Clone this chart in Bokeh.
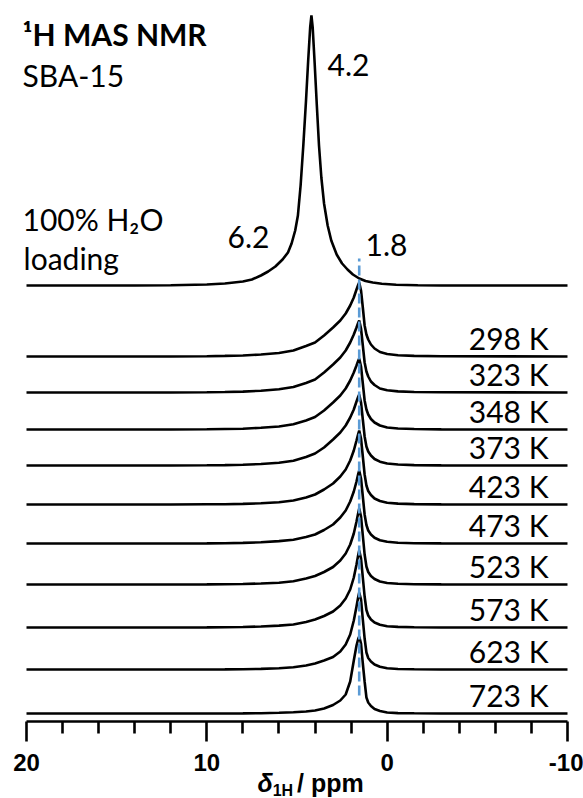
from bokeh.plotting import figure
from bokeh.models import Range1d, FixedTicker, Label
from bokeh.embed import file_html
from bokeh.resources import INLINE

# ---- 100 % H2O loaded SBA-15 (chemical shift in ppm, intensity in a.u.) ----
ppm_water = [20, 14, 12, 10, 9, 8, 7.5, 7.0, 6.6, 6.2, 5.8, 5.5, 5.3, 5.1, 4.95,
             4.8, 4.65, 4.5, 4.38, 4.27, 4.2, 4.13, 4.02, 3.9, 3.78, 3.65, 3.5,
             3.3, 3.1, 2.8, 2.5, 2.2, 1.9, 1.55, 1.2, 0.8, 0.3, -0.5, -1.7, -3, -10]
int_water = [0, 0, 0.2, 1, 2, 4, 6, 10, 14, 19, 26, 33, 42, 55, 70,
             100, 140, 185, 225, 258, 270, 258, 222, 180, 140, 108, 82,
             60, 45, 31, 22, 16, 11, 7, 4.5, 3, 1.8, 0.8, 0.2, 0, 0]

# ---- dehydrated SBA-15 at increasing temperature ----
ppm_dry = [20, 12, 10, 9, 8, 7, 6, 5.2, 4.5, 4.0, 3.5, 3.0, 2.6, 2.3, 2.05, 1.85,
           1.7, 1.6, 1.55, 1.45, 1.35, 1.25, 1.15, 1.05, 0.9, 0.7, 0.4, 0.0,
           -0.6, -1.5, -3, -10]
temps = ["298 K", "323 K", "348 K", "373 K", "423 K",
         "473 K", "523 K", "573 K", "623 K", "723 K"]
int_298 = [0, 0, 0.3, 0.6, 1, 2, 3.5, 6, 10.5, 14, 21, 29, 36, 43, 51, 59,
           67, 72, 74, 66, 49, 31, 22, 17, 12, 8, 4.5, 2.5, 1.2, 0.6, 0.2, 0]
int_323 = [0, 0, 0.3, 0.5, 0.9, 1.8, 3.2, 5.5, 9.5, 13, 20, 28, 35, 42, 50, 58,
           65, 70, 72, 64, 47, 30, 21, 16, 11, 7.5, 4, 2.2, 1.1, 0.5, 0.2, 0]
int_348 = [0, 0, 0.2, 0.5, 0.8, 1.7, 3.0, 5.2, 9, 12.5, 19, 27, 34, 41, 49, 57,
           64, 69, 71, 63, 46, 29, 20, 15, 10.5, 7, 4, 2, 1, 0.5, 0.1, 0]
int_373 = [0, 0, 0.2, 0.4, 0.7, 1.5, 2.7, 4.8, 8.5, 12, 18, 26, 33, 40, 48, 56,
           64, 69, 71, 63, 46, 29, 19, 14, 10, 6.5, 3.8, 2, 1, 0.4, 0.1, 0]
int_423 = [0, 0, 0.2, 0.3, 0.6, 1.2, 2.3, 4, 7, 10, 15, 21, 28, 35, 44, 54,
           64, 71, 74, 66, 48, 30, 19, 13.5, 9.5, 6, 3.5, 1.8, 0.9, 0.4, 0.1, 0]
int_473 = [0, 0, 0.1, 0.3, 0.6, 1.2, 2.4, 3.8, 6.5, 9, 13.5, 19, 26, 33, 42, 52,
           62, 70, 73, 65, 47, 29, 18.5, 13, 9, 5.8, 3.3, 1.7, 0.8, 0.3, 0.1, 0]
int_523 = [0, 0, 0.1, 0.2, 0.5, 1.0, 1.8, 3.2, 6, 8.5, 12.5, 17.5, 24, 31, 40, 51,
           63, 72, 76, 68, 49, 30, 18, 12.5, 8.5, 5.5, 3, 1.5, 0.7, 0.3, 0.1, 0]
int_573 = [0, 0, 0.1, 0.2, 0.5, 1.0, 1.9, 3, 5.5, 8, 11.5, 16, 22, 29, 38, 50,
           63, 73, 77, 69, 50, 31, 17.5, 12, 8, 5, 2.8, 1.3, 0.6, 0.3, 0, 0]
int_623 = [0, 0, 0, 0.1, 0.3, 0.6, 1.2, 2.2, 4, 6, 9, 12.5, 18, 25, 35, 49,
           63, 73, 77, 70, 50, 31, 17, 11.5, 8, 5, 2.7, 1.2, 0.5, 0.2, 0, 0]
int_723 = [0, 0, 0, 0, 0.1, 0.3, 0.7, 1.2, 2, 3, 5, 8.5, 13, 19, 32, 53,
           68, 75, 77, 70, 50, 32, 16, 11, 7.5, 4.5, 2.5, 1, 0.4, 0.2, 0, 0]
spectra_dry = [int_298, int_323, int_348, int_373, int_423,
               int_473, int_523, int_573, int_623, int_723]

# isolated silanol resonance marked by the dashed guide
silanol_shift = 1.55

# ---- stacking layout (vertical offsets in intensity units) ----
offset_water = 436
offsets_dry = [365, 329, 292, 256, 217, 178, 137, 94, 52, 8]

TEXT_FONT = "Lato"
AXIS_FONT = "Liberation Sans"

# the frame fills the whole canvas; the shift axis is pinned at intensity 0
p = figure(width=583, height=798,
           x_range=Range1d(21.4418, -10.8872), y_range=Range1d(-77, 721),
           output_backend="svg", toolbar_location=None,
           y_axis_location=None, min_border=0)
p.outline_line_color = None
p.grid.visible = False
p.background_fill_color = "white"
p.border_fill_color = "white"

# spectra
p.line(ppm_water, [offset_water + v for v in int_water],
       line_color="black", line_width=2.6)
for vals, off in zip(spectra_dry, offsets_dry):
    p.line(ppm_dry, [off + v for v in vals], line_color="black", line_width=2.6)

# dashed guide through the silanol peak
p.line([silanol_shift, silanol_shift], [26, 463],
       line_color="#5B9BD5", line_width=2.6, line_dash="10 4")

# x axis
ax = p.xaxis[0]
ax.fixed_location = 0
ax.bounds = (-10, 20)
ax.ticker = FixedTicker(ticks=[20, 10, 0, -10],
                        minor_ticks=[18, 16, 14, 12, 8, 6, 4, 2, -2, -4, -6, -8])
ax.major_label_overrides = {20: "20", 10: "10", 0: "0", -10: "-10"}
ax.axis_line_width = 2.6
ax.axis_line_color = "black"
ax.major_tick_line_width = 2.6
ax.minor_tick_line_width = 2.6
ax.major_tick_line_color = "black"
ax.minor_tick_line_color = "black"
ax.major_tick_out = 20
ax.major_tick_in = 0
ax.minor_tick_out = 12
ax.minor_tick_in = 0
ax.major_label_standoff = 12
ax.major_label_text_font = AXIS_FONT
ax.major_label_text_font_style = "bold"
ax.major_label_text_font_size = "24px"
ax.major_label_text_color = "black"


def add_text(x, y, text, size, style="normal", font=TEXT_FONT, align="left"):
    # y is the text baseline; raise the anchor to account for the line box
    p.add_layout(Label(x=x, y=y + 0.37 * size, text=text, text_font=font,
                       text_font_size=f"{size}px", text_font_style=style,
                       text_color="black", text_align=align,
                       text_baseline="alphabetic"))


# axis title: italic delta with a subscript nucleus
add_text(7.19, -71, "\u03b4", 25, "bold italic", AXIS_FONT)
add_text(6.35, -75, "1H", 16, "bold", AXIS_FONT)
add_text(5.0, -71, " / ppm", 25, "bold", AXIS_FONT)

# sample annotations
add_text(20.22, 676, "\u00b9H MAS NMR", 30, "bold")
add_text(20.22, 635, "SBA-15", 30)
add_text(20.22, 491, "100% H\u2082O", 30)
add_text(20.16, 452, "loading", 30)

# peak labels
add_text(8.85, 473, "6.2", 30)
add_text(3.31, 645, "4.2", 30)
add_text(1.20, 465, "1.8", 30)

# temperature labels
for t, off in zip(temps, offsets_dry):
    add_text(-8.95, off + 7, t, 30, align="right")

open("out.html", "w").write(file_html(p, INLINE))
